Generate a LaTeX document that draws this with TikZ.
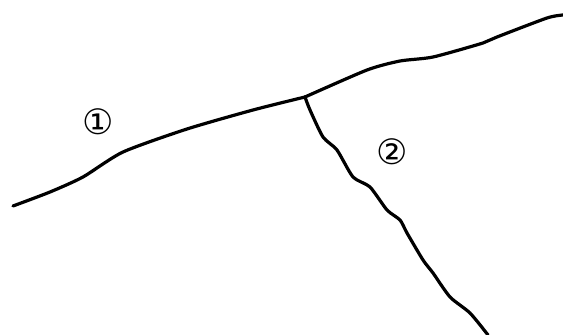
\documentclass[tikz,border=0pt]{standalone}
\usepackage{fontspec}
\newfontfamily\symfont{DejaVu Sans}
\usetikzlibrary{calc}

\begin{document}
\begin{tikzpicture}[
    x=1pt, y=1pt,
    crack/.style={line width=3.2pt, line join=round, line cap=round},
    num/.style={font=\symfont\fontsize{35}{35}\selectfont, inner sep=0pt},
  ]
    \useasboundingbox (0,0) rectangle (563,335);

    % junction and free ends
    \coordinate (j) at (305,238);
    \coordinate (w) at (13,129);
    \coordinate (e) at (563,320);
    \coordinate (s) at (488,0);

    % crack 1
    \draw[crack] plot[smooth, tension=0.4] coordinates {(13,129) (50,143) (83,158) (123,183) (187,206) (253,225) (305,238)};
    \draw[crack] plot[smooth, tension=0.4] coordinates {(305,238) (367,265) (400,274) (433,278) (483,292) (497,298) (547,317) (563,320)};
    % crack 2
    \draw[crack] plot[smooth, tension=0.4] coordinates {(305,238) (310,225) (323,198) (337,185) (353,158) (370,148) (387,125) (400,115) (407,102) (423,75) (433,62) (450,38) (470,22) (488,0)};

    \node[num] (n1) at (98,213) {①};
    \node[num] (n2) at (392,183) {②};
  \end{tikzpicture}
\end{document}
